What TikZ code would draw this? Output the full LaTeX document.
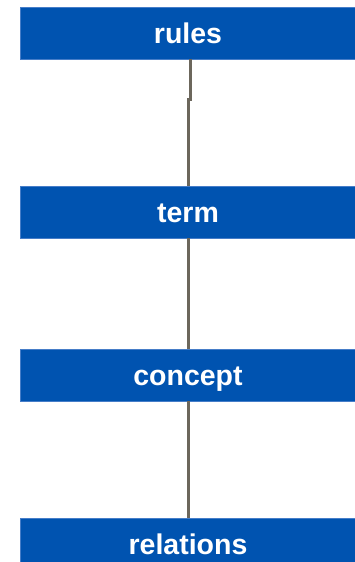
\documentclass[tikz,border=0pt]{standalone}
\usepackage{fontspec}
\setmainfont{Liberation Sans}
\usetikzlibrary{positioning}
\definecolor{boxblue}{RGB}{0,83,176}
\definecolor{boxedge}{RGB}{70,125,200}
\definecolor{linkgray}{RGB}{108,103,92}

\begin{document}
\begin{tikzpicture}[x=1pt, y=1pt, level/.style={rectangle, fill=boxblue, draw=boxedge, line width=0.5pt, minimum width=336pt, minimum height=51.5pt, inner sep=0pt, text=white, text height=20.5pt, text depth=0pt, font=\bfseries\fontsize{28.5}{30}\selectfont}, link/.style={draw=linkgray, line width=3pt}]

\useasboundingbox (0,0) rectangle (354,-562);

% Levels

\node [level] (rules) at (188,-33.2) {rules};
\node [level, below=127pt of rules] (term) {term};
\node [level, below=111pt of term] (concept) {concept};
\node [level, below=117pt of concept] (relations) {relations};

% Links

\draw[link] ([xshift=2pt]rules.south) -- ++(0,-40) -| (term.north);
\draw[link] (term.south) -- (concept.north);
\draw[link] (concept.south) -- (relations.north);

\end{tikzpicture}
\end{document}
